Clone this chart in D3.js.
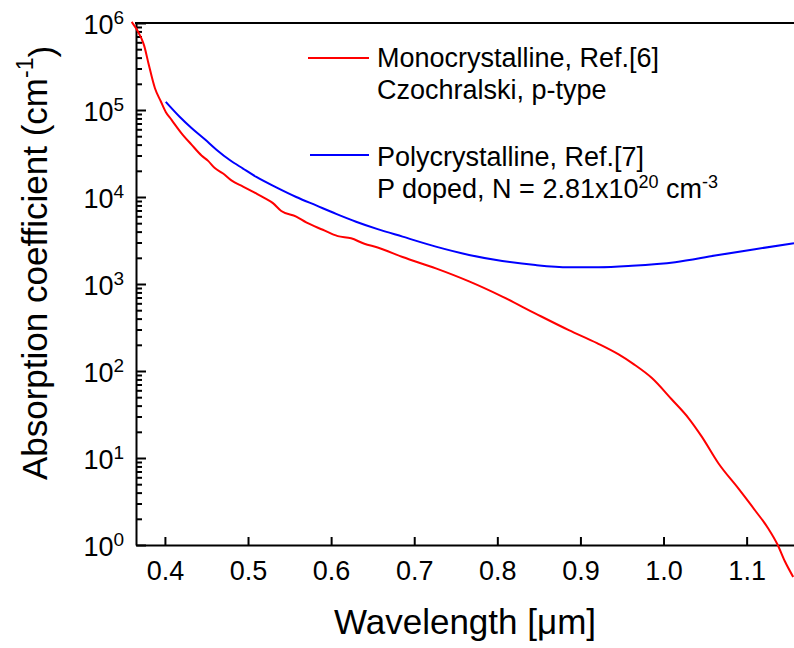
<!DOCTYPE html>
<head>
<meta charset="utf-8">
<script src="https://d3js.org/d3.v7.min.js"></script>
<style>
body { margin: 0; background: #fff; }
text { font-family: "Liberation Sans", Arial, sans-serif; fill: #000; }
.tick text { font-size: 27px; }
.tick line, path.domain { stroke: #000; stroke-width: 2px; }
text.axisTitle { font-size: 35px; }
text.legend { font-size: 27px; }
</style>
<title>Absorption coefficient</title>
</head>
<body>
<script>
const width = 794, height = 648;
const margin = {top: 23, right: 0, bottom: 103, left: 136};

// monocrystalline (Czochralski, p-type), Ref.[6]
const monoWavelength = [0.360, 0.371, 0.375, 0.380, 0.388, 0.395, 0.401, 0.408, 0.420, 0.432,
   0.444, 0.452, 0.460, 0.470, 0.480, 0.494, 0.508, 0.520, 0.530, 0.540,
   0.558, 0.570, 0.590, 0.608, 0.624, 0.640, 0.656, 0.686, 0.726, 0.766,
   0.806, 0.846, 0.886, 0.920, 0.946, 0.964, 0.986, 1.010, 1.030, 1.046,
   1.066, 1.090, 1.110, 1.126, 1.137, 1.146, 1.156];
const monoAlpha = [1.03e6, 6.9e5, 5.5e5, 3.5e5, 1.78e5, 1.26e5, 9.5e4, 7.7e4, 5.4e4, 4.0e4,
   3.0e4, 2.6e4, 2.15e4, 1.86e4, 1.55e4, 1.32e4, 1.12e4, 9.7e3, 8.5e3, 6.9e3,
   5.95e3, 5.1e3, 4.2e3, 3.55e3, 3.35e3, 2.9e3, 2.63e3, 2.04e3, 1.51e3, 1.07e3,
   716, 457, 295, 209, 155, 120, 83, 47, 28.8, 17.6,
   8.7, 4.47, 2.51, 1.55, 1.02, 0.65, 0.43];

// polycrystalline (P doped), Ref.[7]
const polyWavelength = [0.401, 0.418, 0.432, 0.448, 0.462, 0.478, 0.494, 0.510, 0.534, 0.558,
   0.582, 0.606, 0.630, 0.656, 0.686, 0.726, 0.766, 0.806, 0.846, 0.886,
   0.922, 0.962, 1.014, 1.062, 1.110, 1.157];
const polyAlpha = [1.24e5, 8.3e4, 6.2e4, 4.6e4, 3.5e4, 2.66e4, 2.12e4, 1.7e4, 1.29e4, 1.0e4,
   8.0e3, 6.4e3, 5.2e3, 4.27e3, 3.5e3, 2.69e3, 2.16e3, 1.84e3, 1.65e3, 1.56e3,
   1.56e3, 1.62e3, 1.78e3, 2.12e3, 2.51e3, 2.95e3];

const xTicks = [0.4, 0.5, 0.6, 0.7, 0.8, 0.9, 1.0, 1.1];
const yTicks = [1, 10, 100, 1e3, 1e4, 1e5, 1e6];

const svg = d3.select("body").append("svg")
   .attr("width", width)
   .attr("height", height);

const x = d3.scaleLinear()
   .domain([0.3652, 1.157])
   .range([margin.left, width - margin.right]);

const y = d3.scaleLog()
   .domain([1, 1e6])
   .range([height - margin.bottom, margin.top]);

// minor ticks on the log axis
const yMinor = [];
for (let e = 0; e < 6; e++)
   for (let k = 2; k <= 9; k++) yMinor.push(k * Math.pow(10, e));

svg.append("g")
   .attr("transform", `translate(${margin.left},0)`)
   .call(d3.axisLeft(y).tickValues(yMinor).tickSize(-6).tickSizeOuter(0).tickFormat(""))
   .select(".domain").remove();

const yAxis = svg.append("g")
   .attr("transform", `translate(${margin.left},0)`)
   .call(d3.axisLeft(y).tickValues(yTicks).tickSize(-10).tickSizeOuter(0).tickPadding(12).tickFormat(""));

yAxis.selectAll(".tick text")
   .attr("dy", "0.4em")
   .each(function(d) {
      const t = d3.select(this);
      t.text("10");
      t.append("tspan")
         .attr("dy", "-10")
         .style("font-size", "19px")
         .text(Math.round(Math.log10(d)));
   });

svg.append("g")
   .attr("transform", `translate(0,${height - margin.bottom})`)
   .call(d3.axisBottom(x).tickValues(xTicks).tickSize(-8).tickSizeOuter(0).tickPadding(16)
      .tickFormat(d3.format(".1f")));

// top frame line
svg.append("line")
   .attr("x1", margin.left - 1).attr("x2", width)
   .attr("y1", margin.top).attr("y2", margin.top)
   .attr("stroke", "#000").attr("stroke-width", 2);

const line = d3.line()
   .x(d => x(d[0]))
   .y(d => y(d[1]))
   .curve(d3.curveMonotoneX);

svg.append("path")
   .datum(d3.zip(monoWavelength, monoAlpha))
   .attr("fill", "none")
   .attr("stroke", "#ff0000")
   .attr("stroke-width", 2)
   .attr("d", line);

svg.append("path")
   .datum(d3.zip(polyWavelength, polyAlpha))
   .attr("fill", "none")
   .attr("stroke", "#0000ff")
   .attr("stroke-width", 2)
   .attr("d", line);

// axis titles
svg.append("text")
   .attr("class", "axisTitle")
   .attr("x", (margin.left + width) / 2)
   .attr("y", 634)
   .style("text-anchor", "middle")
   .text("Wavelength [\u03bcm]");

const yTitle = svg.append("text")
   .attr("class", "axisTitle")
   .attr("transform", "translate(47,263) rotate(-90)")
   .style("text-anchor", "middle")
   .text("Absorption coefficient (cm");
yTitle.append("tspan").attr("dy", "-0.6em").style("font-size", "23px").text("-1");
yTitle.append("tspan").attr("dy", "0.6em").text(")");

// legend
const legend = svg.append("g");
legend.append("line")
   .attr("x1", 308).attr("x2", 369).attr("y1", 58).attr("y2", 58)
   .attr("stroke", "#ff0000").attr("stroke-width", 2);
legend.append("text").attr("class", "legend").attr("x", 377).attr("y", 67)
   .text("Monocrystalline, Ref.[6]");
legend.append("text").attr("class", "legend").attr("x", 377).attr("y", 99)
   .text("Czochralski, p-type");

legend.append("line")
   .attr("x1", 310).attr("x2", 369).attr("y1", 155).attr("y2", 155)
   .attr("stroke", "#0000ff").attr("stroke-width", 2);
legend.append("text").attr("class", "legend").attr("x", 377).attr("y", 166)
   .text("Polycrystalline, Ref.[7]");
const doped = legend.append("text").attr("class", "legend").attr("x", 377).attr("y", 198)
   .text("P doped, N = 2.81x10");
doped.append("tspan").attr("dy", "-10").style("font-size", "18px").text("20");
doped.append("tspan").attr("dy", "10").text(" cm");
doped.append("tspan").attr("dy", "-10").style("font-size", "18px").text("-3");
</script>
</body>
